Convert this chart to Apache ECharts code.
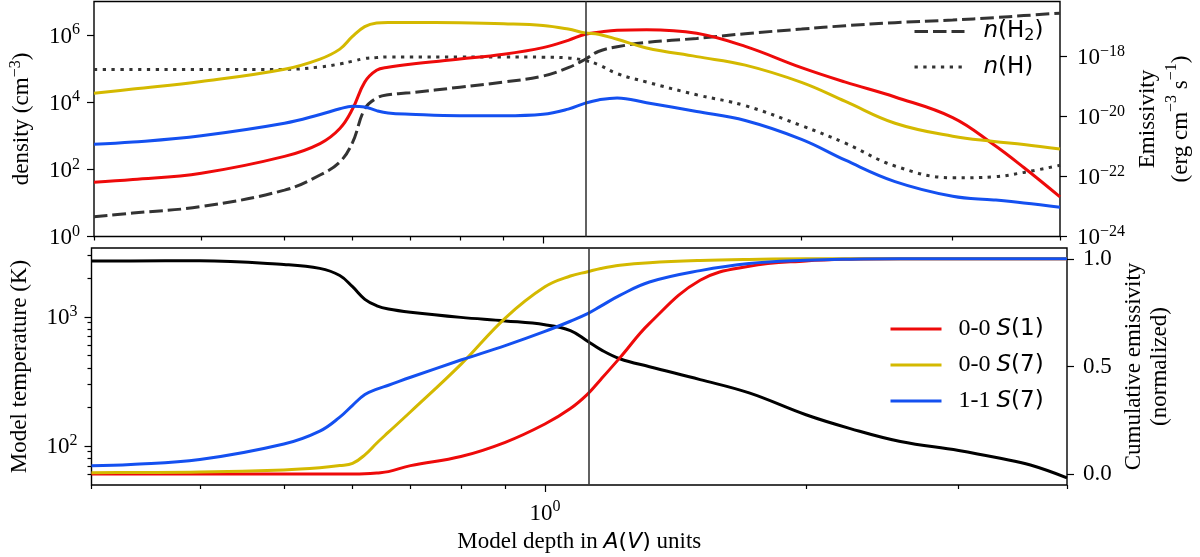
<!DOCTYPE html>
<html><head><meta charset="utf-8">
<script src="https://cdn.jsdelivr.net/npm/echarts@6/dist/echarts.min.js"></script>
<style>html,body{margin:0;padding:0;background:#fff}#c{width:1200px;height:557px}</style>
</head><body><div id="c"></div>
<script>
// ---------- data ----------
const depthAV = [0.30,0.333,0.40,0.50,0.55,0.58,0.60,0.62,0.64,0.66,0.70,0.80,0.90,1.00,1.07,1.12,1.16,1.22,1.32,1.51,1.72,2.00,2.25,2.57,3.00,3.35,3.63,4.00];
// top panel, left axis: densities (cm^-3)
const densityH2 = [3.9,5.0,7.8,24,68,166,630,6300,13200,16600,19000,28000,40000,60000,107000,190000,324000,447000,603000,794000,1.1e6,1.51e6,1.9e6,2.34e6,2.8e6,3.3e6,3.8e6,4.5e6];
const densityH  = [95000,95000,95000,95000,112000,138000,166000,200000,214000,224000,224000,224000,224000,219000,209000,174000,132000,71000,40000,16600,7900,2000,600,126,56,60,81,132];
// top panel, right axis: emissivity (erg cm^-3 s^-1)
const emisS1_00 = [6.5e-23,7.9e-23,1.29e-22,4.7e-22,1.26e-21,4.0e-21,1.78e-20,1.41e-19,3.5e-19,4.4e-19,5.6e-19,8.3e-19,1.2e-18,2.0e-18,3.5e-18,5.6e-18,6.5e-18,7.6e-18,7.9e-18,6.0e-18,2.2e-18,4.3e-19,1.41e-19,4.5e-20,9.3e-21,1.15e-21,2.0e-22,2.1e-23];
const emisS7_00 = [6.0e-20,8.3e-20,1.48e-19,3.8e-19,8.3e-19,1.78e-18,4.7e-18,1.0e-17,1.32e-17,1.38e-17,1.38e-17,1.35e-17,1.26e-17,1.10e-17,8.3e-18,6.2e-18,5.6e-18,3.8e-18,1.95e-18,1.0e-18,5.2e-19,1.38e-19,3.2e-20,6.0e-21,2.2e-21,1.48e-21,1.17e-21,8.3e-22];
const emisS7_11 = [1.2e-21,1.41e-21,2.3e-21,6.0e-21,1.17e-20,1.82e-20,2.2e-20,2.1e-20,1.58e-20,1.32e-20,1.2e-20,1.07e-20,1.07e-20,1.2e-20,1.78e-20,2.8e-20,3.6e-20,4.2e-20,2.9e-20,1.48e-20,7.4e-21,1.74e-21,3.5e-22,6.8e-23,2.2e-23,1.66e-23,1.32e-23,9.5e-24];
// bottom panel, left axis: model temperature (K)
const temperatureK = [2704,2710,2716,2541,2371,2089,1710,1365,1216,1148,1084,989,929,867,782,646,556,473,410,326,257,174,136,108,92,80,71,56.5];
// bottom panel, right axis: cumulative emissivity (normalized)
const cumS1_00 = [0.001,0.001,0.001,0.001,0.001,0.001,0.001,0.002,0.006,0.012,0.04,0.082,0.148,0.233,0.305,0.372,0.44,0.54,0.70,0.90,0.965,0.99,0.998,1,1,1,1,1];
const cumS7_00 = [0.007,0.008,0.01,0.02,0.03,0.04,0.05,0.09,0.145,0.195,0.29,0.51,0.725,0.87,0.92,0.94,0.955,0.97,0.982,0.992,0.997,1,1,1,1,1,1,1];
const cumS7_11 = [0.039,0.045,0.068,0.14,0.2,0.265,0.32,0.37,0.395,0.413,0.45,0.53,0.597,0.663,0.71,0.745,0.78,0.83,0.892,0.945,0.978,0.993,0.998,1,1,1,1,1];
// axes / ticks
const depthRange = [0.3, 4.0];
const depthMajorTicks = [1];
const depthMinorTicks = [0.3,0.4,0.5,0.6,0.7,0.8,0.9,2,3,4];
const densityRange = [1, 1e7];
const densityTicks = [1, 1e2, 1e4, 1e6];
const emisRange = [1e-24, 6.9e-17];
const emisTicks = [1e-24, 1e-22, 1e-20, 1e-18];
const tempRange = [49.7, 3410];
const tempMajorTicks = [100, 1000];
const tempMinorTicks = [60,70,80,90,200,300,400,500,600,700,800,900,2000,3000];
const cumRange = [-0.05, 1.05];
const cumTicks = [0, 0.5, 1.0];
const markerDepth = 1.12;

// ---------- helpers ----------
const L = Math.log10;
const pairs = (ys, logY) => depthAV.map((d, i) => [L(d), logY ? L(ys[i]) : ys[i]]);
const SERIF = 'Liberation Serif';
const SANS = 'DejaVu Sans';
const C_RED = '#ee0a0a', C_YEL = '#d4b900', C_BLU = '#1450f0', C_GRY = '#333333';

const powRich = {
  b: {fontFamily: SERIF, fontSize: 23, lineHeight: 26, verticalAlign: 'bottom', color: '#000'},
  s: {fontFamily: SERIF, fontSize: 16, lineHeight: 16, verticalAlign: 'top', color: '#000'}
};
function powLabel(v) {
  const e = Math.round(v);
  return '{b|10}{s|' + (e < 0 ? '\u2212' + (-e) : String(e)) + '}';
}
function nameRich(lh) {
  return {
    r: {fontFamily: SERIF, fontSize: 23, lineHeight: lh, color: '#000'},
    s: {fontFamily: SERIF, fontSize: 16, lineHeight: 16, verticalAlign: 'top', color: '#000'},
    i: {fontFamily: SANS, fontStyle: 'italic', fontSize: 22, lineHeight: lh, color: '#000'},
    m: {fontFamily: SANS, fontSize: 22, lineHeight: lh, color: '#000'}
  };
}

function xAxisDef(grid, major, showLabel) {
  const vals = (major ? depthMajorTicks : depthMinorTicks).map(L);
  const ax = {
    type: 'value', gridIndex: grid, position: 'bottom',
    min: L(depthRange[0]), max: L(depthRange[1]),
    axisLine: {show: false, onZero: false},
    splitLine: {show: false},
    axisTick: {show: true, inside: false, length: major ? 7 : 4, customValues: vals, lineStyle: {color: '#000', width: 1.2}},
    axisLabel: {show: !!showLabel, customValues: vals, margin: 14, formatter: powLabel, rich: powRich}
  };
  if (showLabel) {
    ax.name = '{r|Model depth in }{i|A}{m|(}{i|V}{m|)}{r| units}';
    ax.nameLocation = 'middle';
    ax.nameGap = 44;
    ax.nameTextStyle = {rich: nameRich(26), color: '#000'};
  }
  return ax;
}

function logYAxis(grid, pos, range, ticks, len, showLabel, name, gap, lh) {
  const vals = ticks.map(L);
  return {
    type: 'value', gridIndex: grid, position: pos,
    min: L(range[0]), max: L(range[1]),
    axisLine: {show: false, onZero: false},
    splitLine: {show: false},
    axisTick: {show: true, inside: false, length: len, customValues: vals, lineStyle: {color: '#000', width: 1.2}},
    axisLabel: {show: showLabel, customValues: vals, margin: pos === 'left' ? 14 : 17, formatter: powLabel, rich: powRich},
    name: name || '', nameLocation: 'middle', nameGap: gap || 0,
    nameTextStyle: {rich: nameRich(lh || 28), color: '#000'}
  };
}

const yAxes = [
  logYAxis(0, 'left', densityRange, densityTicks, 7, true, '{r|density (cm}{s|\u22123}{r|)}', 58, 28),
  logYAxis(0, 'right', emisRange, emisTicks, 7, true, '{r|Emissivity}\n{r|(erg cm}{s|\u22123}{r| s}{s|\u22121}{r|)}', 71, 33),
  logYAxis(1, 'left', tempRange, tempMajorTicks, 7, true, '{r|Model temperature (K)}', 58, 28),
  logYAxis(1, 'left', tempRange, tempMinorTicks, 4, false),
  {
    type: 'value', gridIndex: 1, position: 'right',
    min: cumRange[0], max: cumRange[1],
    axisLine: {show: false, onZero: false},
    splitLine: {show: false},
    axisTick: {show: true, inside: false, length: 7, customValues: cumTicks, lineStyle: {color: '#000', width: 1.2}},
    axisLabel: {customValues: cumTicks, margin: 16, fontFamily: SERIF, fontSize: 23, color: '#000', formatter: v => v.toFixed(1)},
    name: '{r|Cumulative emissivity}\n{r|(normalized)}', nameLocation: 'middle', nameGap: 51,
    nameTextStyle: {rich: nameRich(26), color: '#000'}
  }
];

const vline = {
  silent: true, symbol: 'none', animation: false,
  label: {show: false},
  lineStyle: {color: '#3a3a3a', width: 1.6, type: 'solid'},
  emphasis: {disabled: true},
  data: [{xAxis: L(markerDepth)}]
};

function lineSeries(name, xi, yi, data, color, type, width, extra) {
  return Object.assign({
    name, type: 'line', xAxisIndex: xi, yAxisIndex: yi, data,
    symbol: 'none', smooth: 0.4,
    lineStyle: {color, width: width || 3, type: type || 'solid', cap: 'butt'},
    itemStyle: {color},
    emphasis: {disabled: true}, animation: false, z: 3
  }, extra || {});
}

const series = [
  lineSeries('n(H2)', 0, 0, pairs(densityH2, true), C_GRY, [13.5, 5], 3, {markLine: vline}),
  lineSeries('n(H)', 0, 0, pairs(densityH, true), C_GRY, [3.3, 5.5], 3),
  lineSeries('0-0 S(1)', 0, 1, pairs(emisS1_00, true), C_RED),
  lineSeries('0-0 S(7)', 0, 1, pairs(emisS7_00, true), C_YEL),
  lineSeries('1-1 S(7)', 0, 1, pairs(emisS7_11, true), C_BLU),
  lineSeries('T', 2, 2, pairs(temperatureK, true), '#000', 'solid', 3, {markLine: vline}),
  lineSeries('0-0 S(1)', 2, 4, pairs(cumS1_00, false), C_RED),
  lineSeries('0-0 S(7)', 2, 4, pairs(cumS7_00, false), C_YEL),
  lineSeries('1-1 S(7)', 2, 4, pairs(cumS7_11, false), C_BLU)
];

const legendRich = {
  r: {fontFamily: SERIF, fontSize: 24, lineHeight: 24, color: '#000'},
  i: {fontFamily: SANS, fontStyle: 'italic', fontSize: 23, lineHeight: 24, color: '#000'},
  m: {fontFamily: SANS, fontSize: 23, lineHeight: 24, color: '#000'},
  sub: {fontFamily: SANS, fontSize: 16, lineHeight: 14, verticalAlign: 'bottom', color: '#000'}
};
const legendText = {
  'n(H2)': '{i|n}{m|(H}{sub|2}{m|)}',
  'n(H)': '{i|n}{m|(H)}',
  '0-0 S(1)': '{r|0-0 }{i|S}{m|(1)}',
  '0-0 S(7)': '{r|0-0 }{i|S}{m|(7)}',
  '1-1 S(7)': '{r|1-1 }{i|S}{m|(7)}'
};
const hiddenSymbol = {color: 'rgba(0,0,0,0)', borderColor: 'rgba(0,0,0,0)', borderWidth: 0, opacity: 0};

const option = {
  backgroundColor: '#fff',
  animation: false,
  grid: [
    {left: 91, top: 1.5, width: 976, height: 235, show: true, borderColor: '#000', borderWidth: 1.4, backgroundColor: 'transparent', containLabel: false},
    {left: 91, top: 248, width: 976, height: 237, show: true, borderColor: '#000', borderWidth: 1.4, backgroundColor: 'transparent', containLabel: false}
  ],
  xAxis: [xAxisDef(0, true, false), xAxisDef(0, false, false), xAxisDef(1, true, true), xAxisDef(1, false, false)],
  yAxis: yAxes,
  legend: [
    {data: ['n(H2)', 'n(H)'], orient: 'vertical', left: 913, top: 20, padding: 0, itemWidth: 50, itemHeight: 14, itemGap: 12,
     selectedMode: false, formatter: n => legendText[n], itemStyle: hiddenSymbol, lineStyle: {width: 3},
     textStyle: {rich: legendRich, padding: [0, 0, 0, 14]}},
    {data: ['0-0 S(1)', '0-0 S(7)', '1-1 S(7)'], orient: 'vertical', left: 889, top: 317, padding: 0, itemWidth: 51, itemHeight: 14, itemGap: 12,
     selectedMode: false, formatter: n => legendText[n], itemStyle: hiddenSymbol, lineStyle: {width: 3},
     textStyle: {rich: legendRich, padding: [0, 0, 0, 12]}}
  ],
  series
};

const chart = echarts.init(document.getElementById('c'), null, {renderer: 'canvas'});
chart.setOption(option);
</script></body></html>
